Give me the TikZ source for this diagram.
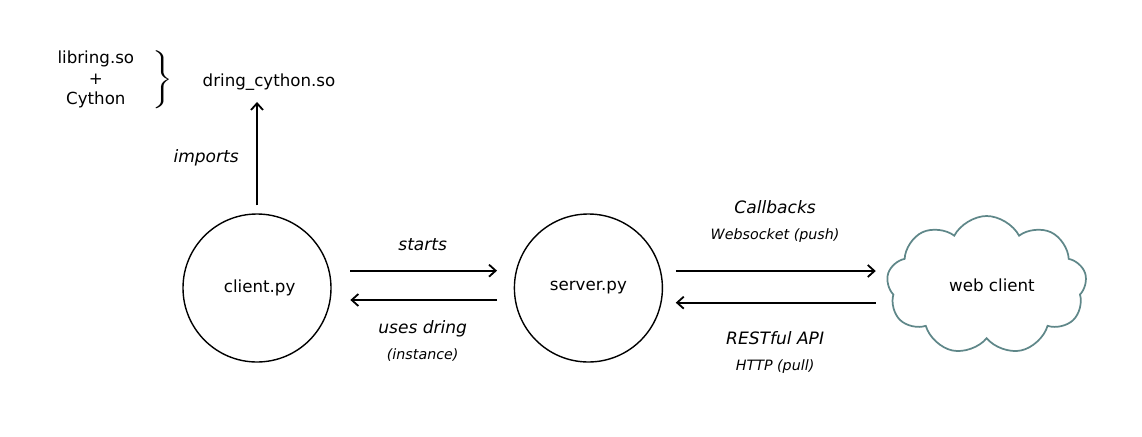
\documentclass[tikz,border=0pt]{standalone}
\usepackage{fontspec}
\setmainfont{DejaVu Sans}
\usetikzlibrary{positioning,shapes.symbols,arrows.meta}
\definecolor{cloudgray}{HTML}{5F8789}
\tikzset{proc/.style={draw, circle, line width=1.05pt, minimum size=111pt, inner sep=0pt, font=\fontsize{12.5}{15}\selectfont},
  txt/.style={inner sep=1pt, font=\fontsize{12.5}{15.5}\selectfont},
  lbl/.style={inner sep=1pt, font=\fontsize{12.8}{15}\selectfont\itshape},
  sublbl/.style={inner sep=1pt, font=\fontsize{10.7}{12}\selectfont\itshape},
  flow/.style={-{Straight Barb[length=5pt,width=9pt]}, line width=1.35pt}}

\begin{document}
\begin{tikzpicture}[x=0.75pt, y=-0.75pt]
\useasboundingbox (0,0) rectangle (1142,436);
\node[proc] (client) at (257,288) {\hspace{4pt}client.py};
\node[proc, right=136.5pt of client] (server) {server.py};
\node[cloud, draw=cloudgray, line width=1.3pt, cloud puffs=9, cloud puff arc=125, aspect=1.5, minimum width=150pt, minimum height=104pt, right=168pt of server, yshift=2pt, font=\fontsize{12.5}{15}\selectfont] (web) {\hspace{8pt}web client};
\node[txt, above=91pt of client.north, xshift=9pt] (dring) {dring\_cython.so};
\node[txt, align=center, left=49pt of dring, yshift=2pt] (lib) {libring.so\\+\\Cython};
\node[inner sep=0pt, xscale=1.9, yscale=1.45, right=12pt of lib] (brace) {$\Biggr\}$};
% client <-> server
\draw[flow, shorten <=14pt, shorten >=12.5pt] ([yshift=13pt]client.east) -- ([yshift=13pt]server.west) node[lbl, midway, above=13pt] (starts) {starts};
\draw[flow, shorten <=12.5pt, shorten >=14pt] ([yshift=-9pt]server.west) -- ([yshift=-9pt]client.east) node[lbl, midway, below=13.5pt] (uses) {uses dring};
\node[sublbl, below=6pt of uses] (inst) {(instance)};
% server <-> web client
\draw[flow, shorten <=9.5pt, shorten >=8.5pt] ([yshift=12.75pt]server.east) -- ([yshift=12.75pt]server.east -| web.west) node[lbl, midway, above=41pt] (cb) {Callbacks};
\node[sublbl, below=8pt of cb] (ws) {Websocket (push)};
\draw[flow, shorten <=8.5pt, shorten >=9.5pt] ([yshift=-11pt]server.east -| web.west) -- ([yshift=-11pt]server.east) node[lbl, midway, below=20pt] (rest) {RESTful API};
\node[sublbl, below=8pt of rest] (http) {HTTP (pull)};
% import
\draw[flow, shorten <=6pt, shorten >=7.5pt] (client.north) -- (client.north |- dring.south) node[lbl, midway, left=12pt, yshift=-4pt] (imp) {imports};
\end{tikzpicture}
\end{document}
